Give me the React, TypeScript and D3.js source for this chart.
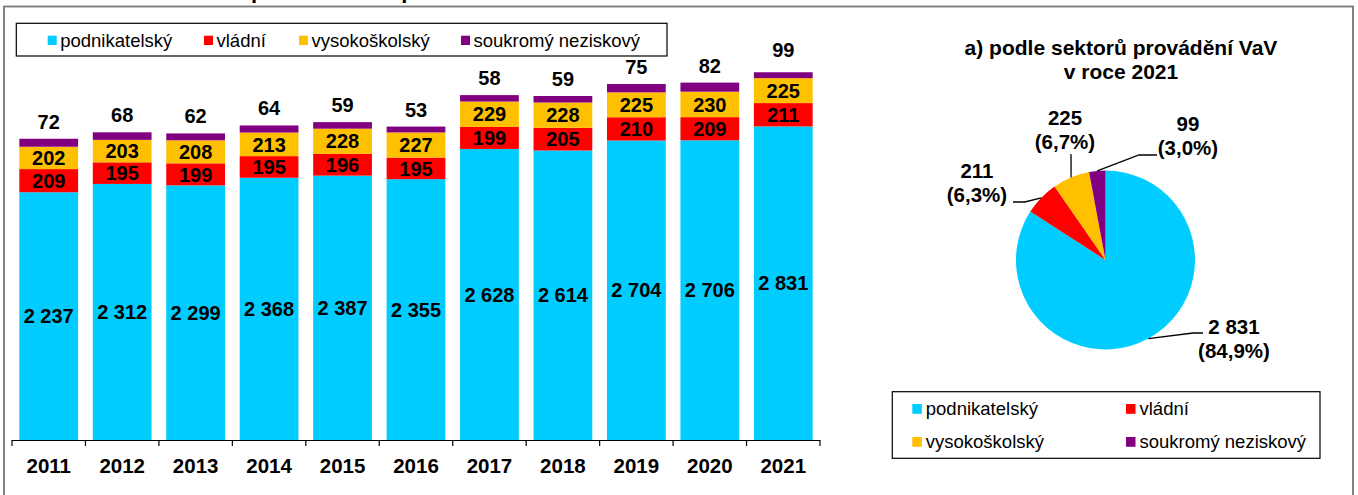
import React, { useEffect } from 'react';
import * as d3 from 'd3';

// ---------- data ----------
const years = ['2011', '2012', '2013', '2014', '2015', '2016', '2017', '2018', '2019', '2020', '2021'];
const podnikatelsky = [2237, 2312, 2299, 2368, 2387, 2355, 2628, 2614, 2704, 2706, 2831];
const vladni = [209, 195, 199, 195, 196, 195, 199, 205, 210, 209, 211];
const vysokoskolsky = [202, 203, 208, 213, 228, 227, 229, 228, 225, 230, 225];
const soukromyNeziskovy = [72, 68, 62, 64, 59, 53, 58, 59, 75, 82, 99];
const seriesKeys = ['podnikatelský', 'vládní', 'vysokoškolský', 'soukromý neziskový'];
const seriesColors = ['#00CCFF', '#FF0000', '#FFC000', '#800080'];
const pieValues2021 = [2831, 211, 225, 99];
const piePercentLabels = ['(84,9%)', '(6,3%)', '(6,7%)', '(3,0%)'];
const pieTitle = ['a) podle sektorů provádění VaV', 'v roce 2021'];
const topTitle = 'Graf 1: Pracoviště VaV podle sektorů provádění VaV';
const yMax = 3320;

// ---------- layout ----------
const W = 1358;
const H = 495;
const FONT = '"Liberation Sans", Arial, sans-serif';
const BASE_Y = 440;
const PLOT_TOP = 72.3;
const topLegendX = [47.7, 204, 299, 461];
const pieCenter = { x: 1105.5, y: 260 };
const pieR = 89.5;
const pieLabelLayout = [
  { x: 1234, y1: 334, y2: 358, pts: [[1193, 333], [1203, 333]] },
  { x: 977, y1: 178, y2: 202, pts: [[1025, 202], [1013, 202]] },
  { x: 1065, y1: 125, y2: 149, pts: [[1071, 154]] },
  { x: 1188, y1: 130.5, y2: 155, pts: [[1139, 155], [1157, 155]] },
];
const pieLegendPos = [
  { x: 912.3, y: 404 },
  { x: 1126, y: 404 },
  { x: 912.3, y: 437 },
  { x: 1126, y: 437 },
];

const locale = d3.formatLocale({ decimal: ',', thousands: ' ', grouping: [3], currency: ['', ''] });
const fmt = locale.format(',d');

export default function App() {
  useEffect(() => {
    document.body.style.margin = '0';
    document.body.style.overflow = 'hidden';
  }, []);

  const rows = years.map((y, i) => ({
    year: y,
    [seriesKeys[0]]: podnikatelsky[i],
    [seriesKeys[1]]: vladni[i],
    [seriesKeys[2]]: vysokoskolsky[i],
    [seriesKeys[3]]: soukromyNeziskovy[i],
  }));
  const stacked = d3.stack<any>().keys(seriesKeys)(rows);

  const x = d3.scaleBand<string>().domain(years).range([12, 820]).paddingInner(0.2).paddingOuter(0.1);
  const y = d3.scaleLinear().domain([0, yMax]).range([BASE_Y, PLOT_TOP]);
  const step = x.step();
  const x0 = x.range()[0];

  const pie = d3.pie<number>().sort(null).startAngle(0).endAngle(2 * Math.PI);
  const arcs = pie(pieValues2021);
  const arcGen = d3.arc<d3.PieArcDatum<number>>().innerRadius(0).outerRadius(pieR);

  return (
    <svg width={W} height={H} style={{ position: 'absolute', left: 0, top: 0, display: 'block' }} fontFamily={FONT}>
      <rect x={0} y={0} width={W} height={H} fill="#fff" />
      {/* title, cut off above the frame as in the reference */}
      <text x={10} y={-2} fontSize={22} fontWeight="bold" fill="#000">{topTitle}</text>
      {/* outer frame */}
      <rect x={4} y={6.5} width={1349} height={H + 10} fill="none" stroke="#777" strokeWidth={1.8} />

      <defs>
        <clipPath id="plotClip">
          <rect x={0} y={PLOT_TOP} width={850} height={BASE_Y - PLOT_TOP} />
        </clipPath>
      </defs>

      {/* top legend */}
      <rect x={16.3} y={23.3} width={650.7} height={32.7} fill="#fff" stroke="#000" strokeWidth={1.2} />
      {seriesKeys.map((k, i) => (
        <g key={k}>
          <rect x={topLegendX[i]} y={35.7} width={9} height={9.3} fill={seriesColors[i]} />
          <text x={topLegendX[i] + 12.5} y={46.7} fontSize={18.5} fill="#000">{k}</text>
        </g>
      ))}

      {/* bars */}
      <g clipPath="url(#plotClip)">
        {stacked.map((s, si) =>
          s.map((d, i) => (
            <rect
              key={`${si}-${i}`}
              x={x(years[i])}
              y={y(d[1])}
              width={x.bandwidth()}
              height={y(d[0]) - y(d[1])}
              fill={seriesColors[si]}
            />
          ))
        )}
      </g>

      {/* segment labels */}
      {stacked.slice(0, 3).map((s, si) =>
        s.map((d, i) => (
          <text
            key={`l${si}-${i}`}
            x={(x(years[i]) as number) + x.bandwidth() / 2}
            y={(y(d[0]) + y(d[1])) / 2 + 7.2}
            textAnchor="middle"
            fontSize={20}
            fontWeight="bold"
            fill="#000"
          >
            {fmt(d[1] - d[0])}
          </text>
        ))
      )}
      {/* top labels (soukromý neziskový) */}
      {stacked[3].map((d, i) => (
        <text
          key={`t${i}`}
          x={(x(years[i]) as number) + x.bandwidth() / 2}
          y={y(d[1]) - 10}
          textAnchor="middle"
          fontSize={20}
          fontWeight="bold"
          fill="#000"
        >
          {fmt(d[1] - d[0])}
        </text>
      ))}

      {/* x axis */}
      <line x1={x0} x2={x0 + step * years.length} y1={BASE_Y + 0.5} y2={BASE_Y + 0.5} stroke="#000" strokeWidth={1.2} />
      {d3.range(years.length + 1).map((i) => (
        <line key={`tk${i}`} x1={x0 + i * step} x2={x0 + i * step} y1={BASE_Y} y2={BASE_Y + 6} stroke="#000" strokeWidth={1.2} />
      ))}
      {years.map((yr) => (
        <text key={yr} x={(x(yr) as number) + x.bandwidth() / 2} y={473} textAnchor="middle" fontSize={20.5} fontWeight="bold" fill="#000">
          {yr}
        </text>
      ))}

      {/* pie title */}
      <text x={1121} y={55} textAnchor="middle" fontSize={21} fontWeight="bold" fill="#000">{pieTitle[0]}</text>
      <text x={1121} y={79.3} textAnchor="middle" fontSize={21} fontWeight="bold" fill="#000">{pieTitle[1]}</text>

      {/* pie */}
      <g transform={`translate(${pieCenter.x},${pieCenter.y})`}>
        {arcs.map((a, i) => (
          <path key={`p${i}`} d={arcGen(a) as string} fill={seriesColors[i]} />
        ))}
      </g>
      {arcs.map((a, i) => {
        const mid = (a.startAngle + a.endAngle) / 2;
        const sx = pieCenter.x + pieR * Math.sin(mid);
        const sy = pieCenter.y - pieR * Math.cos(mid);
        const L = pieLabelLayout[i];
        const pts = [[sx, sy], ...L.pts];
        return (
          <g key={`pl${i}`}>
            <polyline points={pts.map((p) => p.join(',')).join(' ')} fill="none" stroke="#000" strokeWidth={1.3} />
            <text x={L.x} y={L.y1} textAnchor="middle" fontSize={20.5} fontWeight="bold" fill="#000">{fmt(a.data)}</text>
            <text x={L.x} y={L.y2} textAnchor="middle" fontSize={20.5} fontWeight="bold" fill="#000">{piePercentLabels[i]}</text>
          </g>
        );
      })}

      {/* pie legend */}
      <rect x={892.3} y={391.7} width={427.7} height={66.6} fill="#fff" stroke="#000" strokeWidth={1.2} />
      {seriesKeys.map((k, i) => (
        <g key={`pleg${i}`}>
          <rect x={pieLegendPos[i].x} y={pieLegendPos[i].y} width={9.5} height={9.8} fill={seriesColors[i]} />
          <text x={pieLegendPos[i].x + 13.5} y={pieLegendPos[i].y + 11} fontSize={18.5} fill="#000">{k}</text>
        </g>
      ))}
    </svg>
  );
}
